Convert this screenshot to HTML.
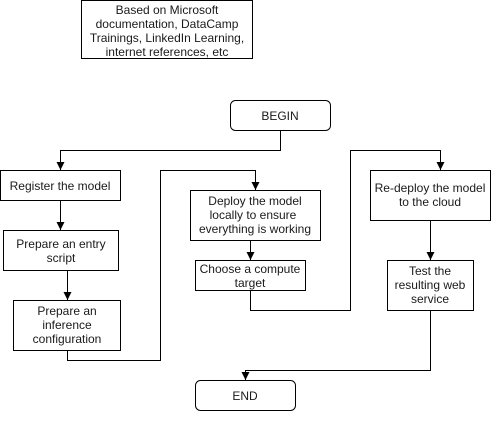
<!DOCTYPE html>
<html><head><meta charset="utf-8"><style>
html,body{margin:0;padding:0;background:#fff;width:491px;height:421px;overflow:hidden}
svg text{font-family:"Liberation Sans",Arial,sans-serif;font-size:12px;fill:#1a1a1a;text-anchor:middle}
</style></head><body>
<svg width="491" height="421" viewBox="0 0 491 421" xmlns="http://www.w3.org/2000/svg">
<defs><marker id="a" markerWidth="8" markerHeight="8" refX="8" refY="4" orient="auto" markerUnits="userSpaceOnUse"><path d="M0,0 L8,4 L0,8 z" fill="#000"/></marker></defs>
<g fill="#fff" stroke="#000" stroke-width="1">
<rect x="81.5" y="0.5" width="171" height="58"/>
<rect x="230.5" y="100.5" width="100" height="30" rx="5"/>
<rect x="0.5" y="170.5" width="120" height="30"/>
<rect x="3.5" y="230.5" width="115" height="40"/>
<rect x="13.5" y="300.5" width="107" height="50"/>
<rect x="190.5" y="190.5" width="130" height="50"/>
<rect x="195.5" y="260.5" width="110" height="30"/>
<rect x="370.5" y="170.5" width="120" height="50"/>
<rect x="387.5" y="260.5" width="86" height="50"/>
<rect x="195.5" y="380.5" width="100" height="30" rx="5"/>
</g>
<g fill="none" stroke="#000" stroke-width="1">
<path d="M280.5 130 V150.5 H60.5 V170" marker-end="url(#a)"/>
<path d="M60.5 200 V230" marker-end="url(#a)"/>
<path d="M67.5 270 V300" marker-end="url(#a)"/>
<path d="M67.5 350 V360.5 H160.5 V170.5 H255.5 V190" marker-end="url(#a)"/>
<path d="M250.5 240 V260" marker-end="url(#a)"/>
<path d="M250.5 290 V310.5 H350.5 V150.5 H440.5 V170" marker-end="url(#a)"/>
<path d="M430.5 220 V260" marker-end="url(#a)"/>
<path d="M430.5 310 V370.5 H245.5 V380" marker-end="url(#a)"/>
</g>
<text x="167" y="14">Based on Microsoft</text>
<text x="167" y="28">documentation, DataCamp</text>
<text x="167" y="42">Trainings, LinkedIn Learning,</text>
<text x="167" y="56">internet references, etc</text>
<text x="280" y="120">BEGIN</text>
<text x="60" y="190">Register the model</text>
<text x="61" y="248">Prepare an entry</text>
<text x="61" y="262">script</text>
<text x="67" y="315">Prepare an</text>
<text x="67" y="329">inference</text>
<text x="67" y="343">configuration</text>
<text x="255" y="205">Deploy the model</text>
<text x="253" y="219">locally to ensure</text>
<text x="255" y="233">everything is working</text>
<text x="250" y="273">Choose a compute</text>
<text x="250" y="287">target</text>
<text x="430" y="192">Re-deploy the model</text>
<text x="430" y="206">to the cloud</text>
<text x="430" y="275">Test the</text>
<text x="430" y="289">resulting web</text>
<text x="430" y="303">service</text>
<text x="245" y="400">END</text>
</svg>
</body></html>
